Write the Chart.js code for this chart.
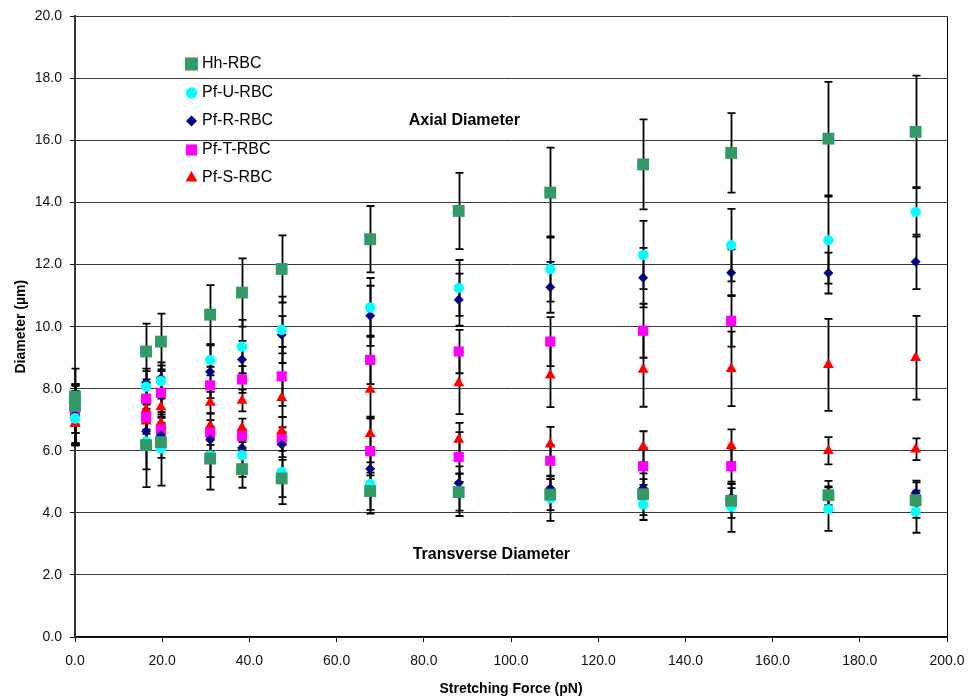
<!DOCTYPE html>
<html>
<head>
<meta charset="utf-8">
<title>RBC diameter vs stretching force</title>
<script src="https://cdn.jsdelivr.net/npm/chart.js@4.4.1/dist/chart.umd.min.js"></script>
<style>
  body { margin: 0; background: #fff; }
  canvas { display: block; }
</style>
</head>
<body>
<canvas id="chart" width="969" height="700"></canvas>
<script>
// stretching force (pN) at each measurement step
const forces = [0, 16.3, 19.7, 31.0, 38.3, 47.4, 67.7, 88.0, 109.0, 130.3, 150.5, 172.8, 192.8];

// Hh-RBC
const hhAxial = [7.75, 9.2, 9.52, 10.39, 11.1, 11.86, 12.82, 13.73, 14.32, 15.23, 15.6, 16.06, 16.28];
const hhAxialErr = [0.9, 0.9, 0.9, 0.95, 1.1, 1.08, 1.07, 1.23, 1.45, 1.45, 1.28, 1.83, 1.81];
const hhTrans = [7.45, 6.18, 6.28, 5.75, 5.41, 5.11, 4.7, 4.67, 4.59, 4.6, 4.39, 4.57, 4.41];
const hhTransErr = [0.4, 1.35, 1.4, 1.0, 0.6, 0.6, 0.6, 0.6, 0.5, 0.67, 0.55, 0.46, 0.57];

// Pf-U-RBC
const pfuAxial = [7.05, 8.07, 8.25, 8.93, 9.36, 9.9, 10.62, 11.25, 11.86, 12.31, 12.63, 12.79, 13.7];
const pfuAxialErr = [0.87, 0.5, 0.5, 0.5, 0.86, 1.07, 0.95, 0.9, 1.05, 1.1, 1.17, 1.4, 0.8];
const pfuTrans = [7.05, 6.3, 6.07, 5.85, 5.86, 5.32, 4.93, 4.7, 4.47, 4.27, 4.2, 4.12, 4.04];
const pfuTransErr = [0.87, 0.9, 0.3, 0.7, 0.7, 1.04, 0.95, 0.8, 0.73, 0.5, 0.81, 0.7, 0.68];

// Pf-R-RBC
const pfrAxial = [7.15, 8.2, 8.35, 8.55, 8.94, 9.74, 10.35, 10.87, 11.27, 11.58, 11.74, 11.73, 12.09];
const pfrAxialErr = [0.95, 0.45, 0.5, 0.85, 0.6, 0.6, 0.97, 0.84, 0.82, 0.96, 0.75, 0.66, 0.88];
const pfrTrans = [7.15, 6.63, 6.5, 6.36, 6.09, 6.2, 5.42, 4.96, 4.79, 4.79, 4.5, 4.55, 4.64];
const pfrTransErr = [0.95, 0.5, 0.4, 0.4, 0.3, 0.4, 0.21, 0.3, 0.3, 0.3, 0.3, 0.3, 0.4];

// Pf-T-RBC (measured up to ~150 pN only)
const pftAxial = [7.2, 7.68, 7.87, 8.11, 8.3, 8.4, 8.93, 9.2, 9.52, 9.87, 10.19];
const pftAxialErr = [0.95, 0.5, 0.7, 0.6, 0.43, 0.95, 0.78, 0.7, 0.79, 0.87, 0.83];
const pftTrans = [7.2, 7.09, 6.69, 6.59, 6.48, 6.38, 5.99, 5.8, 5.68, 5.5, 5.5];
const pftTransErr = [0.95, 0.4, 0.4, 0.4, 0.2, 0.38, 1.05, 0.8, 0.5, 0.6, 0.57];

// Pf-S-RBC
const pfsAxial = [6.88, 7.33, 7.41, 7.55, 7.62, 7.71, 7.97, 8.18, 8.43, 8.62, 8.64, 8.77, 9.0];
const pfsAxialErr = [0.3, 0.4, 0.35, 0.35, 0.35, 0.62, 0.9, 1.0, 1.02, 1.2, 1.2, 1.48, 1.35];
const pfsTrans = [6.88, 6.95, 6.9, 6.81, 6.74, 6.64, 6.55, 6.36, 6.21, 6.13, 6.16, 6.0, 6.05];
const pfsTransErr = [0.3, 0.4, 0.35, 0.4, 0.3, 0.45, 0.55, 0.54, 0.56, 0.5, 0.53, 0.44, 0.35];

const FONT = "'Liberation Sans', Arial, sans-serif";

function pts(ys, errs) {
  return ys.map((y, i) => ({ x: forces[i], y: y, err: errs[i] }));
}

function series(label, style, color, radius, axial, axialErr, trans, transErr) {
  return {
    label: label,
    data: pts(axial, axialErr).concat(pts(trans, transErr)),
    pointStyle: style,
    pointRadius: radius,
    backgroundColor: color,
    borderColor: color,
    pointBorderWidth: 0,
    showLine: false,
    clip: false
  };
}

// vertical error bars, drawn underneath the markers
const errorBars = {
  id: 'errorBars',
  beforeDatasetsDraw(chart) {
    const ctx = chart.ctx;
    const y = chart.scales.y;
    ctx.save();
    ctx.strokeStyle = '#000';
    ctx.lineWidth = 1.8;
    chart.data.datasets.forEach((ds, i) => {
      chart.getDatasetMeta(i).data.forEach((el, j) => {
        const d = ds.data[j];
        const px = Math.round(el.x) + 0.5;
        const top = y.getPixelForValue(d.y + d.err);
        const bot = y.getPixelForValue(d.y - d.err);
        ctx.beginPath();
        ctx.moveTo(px, top);
        ctx.lineTo(px, bot);
        ctx.moveTo(px - 4, top);
        ctx.lineTo(px + 4, top);
        ctx.moveTo(px - 4, bot);
        ctx.lineTo(px + 4, bot);
        ctx.stroke();
      });
    });
    ctx.restore();
  }
};

// legend inside the plot, frame edge on the right, and the two region labels
const overlay = {
  id: 'overlay',
  afterDraw(chart) {
    const ctx = chart.ctx;
    const area = chart.chartArea;
    const xs = chart.scales.x, ys = chart.scales.y;
    ctx.save();

    ctx.strokeStyle = '#000';
    ctx.lineWidth = 1;
    ctx.beginPath();
    ctx.moveTo(Math.round(area.right) + 0.5, area.top);
    ctx.lineTo(Math.round(area.right) + 0.5, area.bottom);
    ctx.stroke();

    ctx.font = '16px ' + FONT;
    ctx.textBaseline = 'middle';
    ctx.textAlign = 'left';
    const rows = [64, 93, 121, 150, 178];
    chart.data.datasets.forEach((ds, i) => {
      ctx.fillStyle = ds.backgroundColor;
      Chart.helpers.drawPoint(ctx, {
        pointStyle: ds.pointStyle,
        radius: ds.pointRadius * 1.1,
        rotation: 0,
        borderWidth: 0
      }, 191.5, rows[i]);
      ctx.fillStyle = '#000';
      ctx.fillText(ds.label, 202, rows[i]);
    });

    ctx.font = 'bold 16px ' + FONT;
    ctx.textAlign = 'center';
    ctx.fillText('Axial Diameter', xs.getPixelForValue(89.3), ys.getPixelForValue(16.65));
    ctx.fillText('Transverse Diameter', xs.getPixelForValue(95.5), ys.getPixelForValue(2.64));
    ctx.restore();
  }
};

new Chart(document.getElementById('chart'), {
  type: 'scatter',
  data: {
    datasets: [
      series('Hh-RBC', 'rect', '#339966', 8.4, hhAxial, hhAxialErr, hhTrans, hhTransErr),
      series('Pf-U-RBC', 'circle', '#00FFFF', 5.2, pfuAxial, pfuAxialErr, pfuTrans, pfuTransErr),
      series('Pf-R-RBC', 'rectRot', '#000080', 5, pfrAxial, pfrAxialErr, pfrTrans, pfrTransErr),
      series('Pf-T-RBC', 'rect', '#FF00FF', 7.2, pftAxial, pftAxialErr, pftTrans, pftTransErr),
      series('Pf-S-RBC', 'triangle', '#FF0000', 6.3, pfsAxial, pfsAxialErr, pfsTrans, pfsTransErr)
    ]
  },
  options: {
    responsive: false,
    animation: false,
    events: [],
    layout: { padding: { left: 0, top: 15, right: 22, bottom: 0 } },
    plugins: {
      legend: { display: false },
      tooltip: { enabled: false }
    },
    scales: {
      x: {
        type: 'linear',
        min: 0,
        max: 200,
        afterFit(scale) {
          scale.height = 63;
          // let the 200.0 label hang into the right margin
          scale.paddingRight = 0;
        },
        ticks: {
          stepSize: 20,
          padding: 11,
          color: '#111',
          font: { family: FONT, size: 14 },
          maxRotation: 0,
          callback: v => v.toFixed(1)
        },
        grid: { drawOnChartArea: false, drawTicks: true, tickLength: 5, color: '#000' },
        border: { display: true, color: '#000', width: 1.5 },
        title: {
          display: true,
          text: 'Stretching Force (pN)',
          color: '#000',
          font: { family: FONT, size: 14, weight: 'bold' },
          padding: { top: 0, bottom: 2 }
        }
      },
      y: {
        type: 'linear',
        min: 0,
        max: 20,
        afterFit(scale) { scale.width = 75; },
        ticks: {
          stepSize: 2,
          padding: 8,
          color: '#111',
          font: { family: FONT, size: 14 },
          callback: v => v.toFixed(1)
        },
        grid: { color: '#3a3a3a', lineWidth: 1, tickLength: 5, tickColor: '#000' },
        border: { display: true, color: '#333', width: 2 },
        title: {
          display: true,
          text: 'Diameter (µm)',
          color: '#000',
          font: { family: FONT, size: 14, weight: 'bold' },
          padding: { top: 13, bottom: 0 }
        }
      }
    }
  },
  plugins: [errorBars, overlay]
});
</script>
</body>
</html>
